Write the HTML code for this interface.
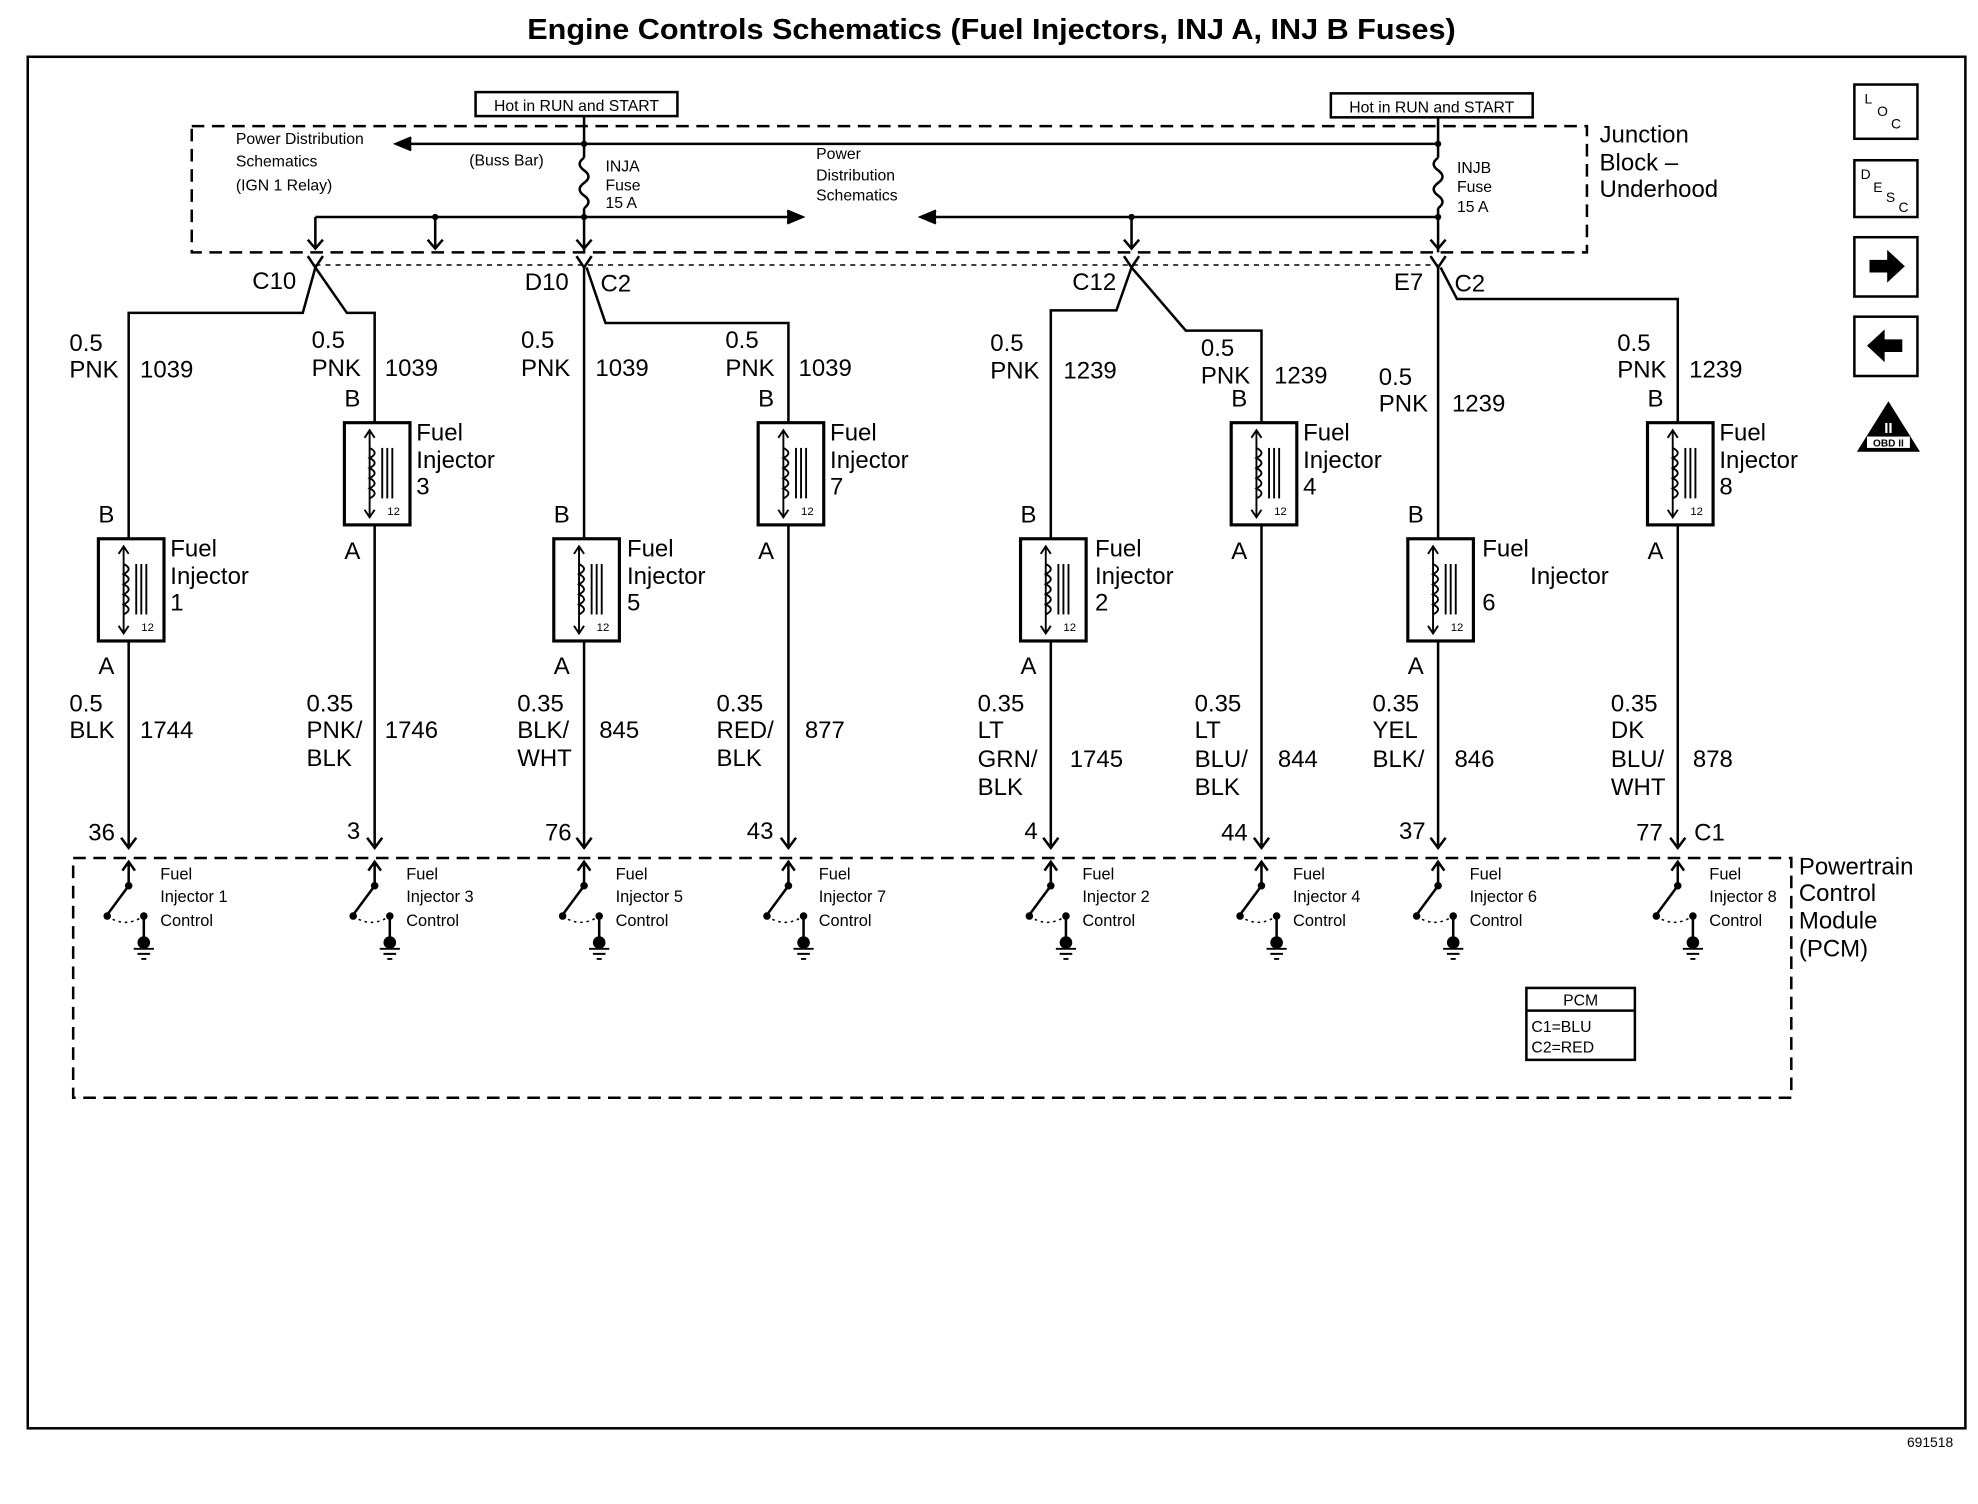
<!DOCTYPE html>
<html><head><meta charset="utf-8"><style>
html,body{margin:0;padding:0;background:#fff}
svg{display:block}
text{font-family:"Liberation Sans",Arial,sans-serif;fill:#000}
.w{font-size:19px}
.s{font-size:13px}
.m{font-size:12.5px}
</style></head><body>
<svg width="1978" height="1504" viewBox="0 0 1568 1192" preserveAspectRatio="none" xmlns="http://www.w3.org/2000/svg">
<defs>
<g id="inj">
<rect x="0" y="0" width="52" height="81" fill="#fff" stroke="#000" stroke-width="2.5"/>
<line x1="20" y1="6" x2="20" y2="75" stroke="#000" stroke-width="1.5"/>
<path d="M16,12 L20,6 L24,12 M16,69 L20,75 L24,69" fill="none" stroke="#000" stroke-width="1.5"/>
<path d="M20,20 q8,4 0,8 q8,4 0,8 q8,4 0,8 q8,4 0,8 q8,4 0,8" fill="none" stroke="#000" stroke-width="1.5"/>
<line x1="30" y1="20" x2="30" y2="60" stroke="#000" stroke-width="1.5"/>
<line x1="34" y1="20" x2="34" y2="60" stroke="#000" stroke-width="1.5"/>
<line x1="38" y1="20" x2="38" y2="60" stroke="#000" stroke-width="1.5"/>
</g>
<g id="sw">
<path d="M0,700 L0,683 M-5,690 L0,683 L5,690" fill="none" stroke="#000" stroke-width="2"/>
<circle cx="0" cy="702" r="3"/>
<line x1="0" y1="702" x2="-17" y2="725" stroke="#000" stroke-width="2"/>
<circle cx="-17" cy="726" r="3"/>
<path d="M-17,726 Q-3,736 12,726" fill="none" stroke="#000" stroke-width="1.2" stroke-dasharray="2,3"/>
<circle cx="12" cy="726" r="3"/>
<line x1="12" y1="726" x2="12" y2="745" stroke="#000" stroke-width="2"/>
<circle cx="12" cy="747" r="5"/>
<path d="M4,752 H20 M7,756 H17 M10,760 H14" stroke="#000" stroke-width="1.5"/>
</g>
</defs>
<rect width="1568" height="1192" fill="#fff"/>
<text x="786" y="31" font-size="23" font-weight="bold" text-anchor="middle" textLength="736" lengthAdjust="spacingAndGlyphs">Engine Controls Schematics (Fuel Injectors, INJ A, INJ B Fuses)</text>
<rect x="22" y="45" width="1536" height="1087" fill="none" stroke="#000" stroke-width="2"/>
<text x="1530" y="1147" font-size="11" text-anchor="middle">691518</text>

<rect x="152" y="100" width="1106" height="100" fill="none" stroke="#000" stroke-width="2" stroke-dasharray="10,6"/>
<rect x="377" y="73" width="160" height="19" fill="#fff" stroke="#000" stroke-width="2"/>
<text x="457" y="88" class="m" text-anchor="middle">Hot in RUN and START</text>
<rect x="1055" y="74" width="160" height="19" fill="#fff" stroke="#000" stroke-width="2"/>
<text x="1135" y="89" class="m" text-anchor="middle">Hot in RUN and START</text>
<g stroke="#000" stroke-width="2" fill="none">
<line x1="316" y1="114" x2="1140" y2="114"/>
<path d="M326,109 L314,114 L326,119" fill="#000"/>
<line x1="463" y1="92" x2="463" y2="125"/>
<path d="M463,125 q-7,5 0,10 q7,5 0,10 q-7,5 0,10 q7,5 0,10"/>
<line x1="463" y1="165" x2="463" y2="200"/>
<line x1="1140" y1="93" x2="1140" y2="125"/>
<path d="M1140,125 q-7,5 0,10 q7,5 0,10 q-7,5 0,10 q7,5 0,10"/>
<line x1="1140" y1="165" x2="1140" y2="200"/>
<line x1="250" y1="172" x2="630" y2="172"/>
<path d="M624,167 L636,172 L624,177" fill="#000"/>
<line x1="736" y1="172" x2="1140" y2="172"/>
<path d="M742,167 L730,172 L742,177" fill="#000"/>
<line x1="250" y1="172" x2="250" y2="196"/>
<line x1="345" y1="172" x2="345" y2="196"/>
<line x1="897" y1="172" x2="897" y2="196"/>
<path d="M244,190 L250,197 L256,190 M339,190 L345,197 L351,190 M457,190 L463,197 L469,190 M891,190 L897,197 L903,190 M1134,190 L1140,197 L1146,190"/>
</g>
<g fill="#000"><circle cx="463" cy="114" r="2.5"/><circle cx="1140" cy="114" r="2.5"/><circle cx="345" cy="172" r="2.5"/><circle cx="463" cy="172" r="2.5"/><circle cx="897" cy="172" r="2.5"/><circle cx="1140" cy="172" r="2.5"/></g>
<text x="187" y="114" class="m">Power Distribution</text>
<text x="187" y="132" class="m">Schematics</text>
<text x="187" y="151" class="m">(IGN 1 Relay)</text>
<text x="372" y="131" class="m">(Buss Bar)</text>
<text x="480" y="136" class="m">INJA</text><text x="480" y="151" class="m">Fuse</text><text x="480" y="165" class="m">15 A</text>
<text x="647" y="126" class="m">Power</text><text x="647" y="143" class="m">Distribution</text><text x="647" y="159" class="m">Schematics</text>
<text x="1155" y="137" class="m">INJB</text><text x="1155" y="152" class="m">Fuse</text><text x="1155" y="168" class="m">15 A</text>
<text x="1268" y="113" class="w">Junction</text><text x="1268" y="135" class="w">Block –</text><text x="1268" y="156" class="w">Underhood</text>

<line x1="250" y1="210" x2="1140" y2="210" stroke="#000" stroke-width="1.2" stroke-dasharray="4,4"/>
<g stroke="#000" stroke-width="2" fill="none">
<path d="M244,203 L250,212 L256,203"/><path d="M457,203 L463,212 L469,203"/><path d="M891,203 L897,212 L903,203"/><path d="M1134,203 L1140,212 L1146,203"/>
<polyline points="250,212 240,248 102,248 102,670"/>
<polyline points="250,212 275,248 297,248 297,670"/>
<polyline points="463,212 463,670"/>
<polyline points="465,212 480,256 625,256 625,670"/>
<polyline points="897,212 885,246 833,246 833,670"/>
<polyline points="897,212 940,262 1000,262 1000,670"/>
<polyline points="1140,212 1140,670"/>
<polyline points="1142,212 1155,237 1330,237 1330,670"/>
</g>
<text x="200" y="229" class="w">C10</text>
<text x="416" y="230" class="w">D10</text><text x="476" y="231" class="w">C2</text>
<text x="850" y="230" class="w">C12</text>
<text x="1105" y="230" class="w">E7</text><text x="1153" y="231" class="w">C2</text>

<g class="w">
<text x="55" y="278">0.5</text><text x="55" y="299">PNK</text><text x="111" y="299">1039</text>
<text x="247" y="276">0.5</text><text x="247" y="298">PNK</text><text x="305" y="298">1039</text>
<text x="413" y="276">0.5</text><text x="413" y="298">PNK</text><text x="472" y="298">1039</text>
<text x="575" y="276">0.5</text><text x="575" y="298">PNK</text><text x="633" y="298">1039</text>
<text x="785" y="278">0.5</text><text x="785" y="300">PNK</text><text x="843" y="300">1239</text>
<text x="952" y="282">0.5</text><text x="952" y="304">PNK</text><text x="1010" y="304">1239</text>
<text x="1093" y="305">0.5</text><text x="1093" y="326">PNK</text><text x="1151" y="326">1239</text>
<text x="1282" y="278">0.5</text><text x="1282" y="299">PNK</text><text x="1339" y="299">1239</text>
</g>

<use href="#inj" x="78" y="427"/><use href="#inj" x="273" y="335"/><use href="#inj" x="439" y="427"/><use href="#inj" x="601" y="335"/>
<use href="#inj" x="809" y="427"/><use href="#inj" x="976" y="335"/><use href="#inj" x="1116" y="427"/><use href="#inj" x="1306" y="335"/>
<g font-size="9"><text x="112" y="500">12</text><text x="307" y="408">12</text><text x="473" y="500">12</text><text x="635" y="408">12</text><text x="843" y="500">12</text><text x="1010" y="408">12</text><text x="1150" y="500">12</text><text x="1340" y="408">12</text></g>
<g class="w">
<text x="78" y="414">B</text><text x="78" y="534">A</text><text x="135" y="441">Fuel</text><text x="135" y="463">Injector</text><text x="135" y="484">1</text>
<text x="273" y="322">B</text><text x="273" y="443">A</text><text x="330" y="349">Fuel</text><text x="330" y="371">Injector</text><text x="330" y="392">3</text>
<text x="439" y="414">B</text><text x="439" y="534">A</text><text x="497" y="441">Fuel</text><text x="497" y="463">Injector</text><text x="497" y="484">5</text>
<text x="601" y="322">B</text><text x="601" y="443">A</text><text x="658" y="349">Fuel</text><text x="658" y="371">Injector</text><text x="658" y="392">7</text>
<text x="809" y="414">B</text><text x="809" y="534">A</text><text x="868" y="441">Fuel</text><text x="868" y="463">Injector</text><text x="868" y="484">2</text>
<text x="976" y="322">B</text><text x="976" y="443">A</text><text x="1033" y="349">Fuel</text><text x="1033" y="371">Injector</text><text x="1033" y="392">4</text>
<text x="1116" y="414">B</text><text x="1116" y="534">A</text><text x="1175" y="441">Fuel</text><text x="1213" y="463">Injector</text><text x="1175" y="484">6</text>
<text x="1306" y="322">B</text><text x="1306" y="443">A</text><text x="1363" y="349">Fuel</text><text x="1363" y="371">Injector</text><text x="1363" y="392">8</text>
</g>

<g class="w">
<text x="55" y="564">0.5</text><text x="55" y="585">BLK</text><text x="111" y="585">1744</text>
<text x="243" y="564">0.35</text><text x="243" y="585">PNK/</text><text x="243" y="607">BLK</text><text x="305" y="585">1746</text>
<text x="410" y="564">0.35</text><text x="410" y="585">BLK/</text><text x="410" y="607">WHT</text><text x="475" y="585">845</text>
<text x="568" y="564">0.35</text><text x="568" y="585">RED/</text><text x="568" y="607">BLK</text><text x="638" y="585">877</text>
<text x="775" y="564">0.35</text><text x="775" y="585">LT</text><text x="775" y="608">GRN/</text><text x="775" y="630">BLK</text><text x="848" y="608">1745</text>
<text x="947" y="564">0.35</text><text x="947" y="585">LT</text><text x="947" y="608">BLU/</text><text x="947" y="630">BLK</text><text x="1013" y="608">844</text>
<text x="1088" y="564">0.35</text><text x="1088" y="585">YEL</text><text x="1088" y="608">BLK/</text><text x="1153" y="608">846</text>
<text x="1277" y="564">0.35</text><text x="1277" y="585">DK</text><text x="1277" y="608">BLU/</text><text x="1277" y="630">WHT</text><text x="1342" y="608">878</text>
<text x="70" y="666">36</text><text x="275" y="665">3</text><text x="432" y="666">76</text><text x="592" y="665">43</text>
<text x="812" y="665">4</text><text x="968" y="666">44</text><text x="1109" y="665">37</text><text x="1297" y="666">77</text><text x="1343" y="666">C1</text>
</g>
<g stroke="#000" stroke-width="2" fill="none">
<path d="M96,664 L102,672 L108,664 M291,664 L297,672 L303,664 M457,664 L463,672 L469,664 M619,664 L625,672 L631,664 M827,664 L833,672 L839,664 M994,664 L1000,672 L1006,664 M1134,664 L1140,672 L1146,664 M1324,664 L1330,672 L1336,664"/>
</g>

<rect x="58" y="680" width="1362" height="190" fill="none" stroke="#000" stroke-width="2" stroke-dasharray="10,6"/>
<use href="#sw" x="102" y="0"/><use href="#sw" x="297" y="0"/><use href="#sw" x="463" y="0"/><use href="#sw" x="625" y="0"/>
<use href="#sw" x="833" y="0"/><use href="#sw" x="1000" y="0"/><use href="#sw" x="1140" y="0"/><use href="#sw" x="1330" y="0"/>
<g class="s">
<text x="127" y="697">Fuel</text><text x="127" y="715">Injector 1</text><text x="127" y="734">Control</text>
<text x="322" y="697">Fuel</text><text x="322" y="715">Injector 3</text><text x="322" y="734">Control</text>
<text x="488" y="697">Fuel</text><text x="488" y="715">Injector 5</text><text x="488" y="734">Control</text>
<text x="649" y="697">Fuel</text><text x="649" y="715">Injector 7</text><text x="649" y="734">Control</text>
<text x="858" y="697">Fuel</text><text x="858" y="715">Injector 2</text><text x="858" y="734">Control</text>
<text x="1025" y="697">Fuel</text><text x="1025" y="715">Injector 4</text><text x="1025" y="734">Control</text>
<text x="1165" y="697">Fuel</text><text x="1165" y="715">Injector 6</text><text x="1165" y="734">Control</text>
<text x="1355" y="697">Fuel</text><text x="1355" y="715">Injector 8</text><text x="1355" y="734">Control</text>
</g>
<g class="w"><text x="1426" y="693">Powertrain</text><text x="1426" y="714">Control</text><text x="1426" y="736">Module</text><text x="1426" y="758">(PCM)</text></g>
<rect x="1210" y="783" width="86" height="57" fill="#fff" stroke="#000" stroke-width="2"/>
<line x1="1210" y1="801" x2="1296" y2="801" stroke="#000" stroke-width="2"/>
<text x="1253" y="797" class="m" text-anchor="middle">PCM</text>
<text x="1214" y="818" class="m">C1=BLU</text><text x="1214" y="834" class="m">C2=RED</text>

<g stroke="#000" stroke-width="2" fill="#fff">
<rect x="1470" y="67" width="50" height="43"/><rect x="1470" y="127" width="50" height="45"/>
<rect x="1470" y="188" width="50" height="47"/><rect x="1470" y="251" width="50" height="47"/>
</g>
<text x="1478" y="82" font-size="11">L</text><text x="1488" y="92" font-size="11">O</text><text x="1499" y="102" font-size="11">C</text>
<text x="1475" y="142" font-size="11">D</text><text x="1485" y="152" font-size="11">E</text><text x="1495" y="160" font-size="11">S</text><text x="1505" y="168" font-size="11">C</text>
<path d="M1482,206 H1496 V198 L1510,211 L1496,224 V216 H1482 Z" fill="#000"/>
<path d="M1508,269 H1494 V261 L1480,274 L1494,287 V279 H1508 Z" fill="#000"/>
<path d="M1497,318 L1522,358 L1472,358 Z" fill="#000"/>
<rect x="1480" y="346" width="34" height="9" fill="#fff"/>
<text x="1497" y="354" font-size="8" text-anchor="middle" font-weight="bold">OBD II</text>
<text x="1497" y="343" font-size="12" text-anchor="middle" font-weight="bold" style="fill:#fff">II</text>
</svg>
</body></html>
